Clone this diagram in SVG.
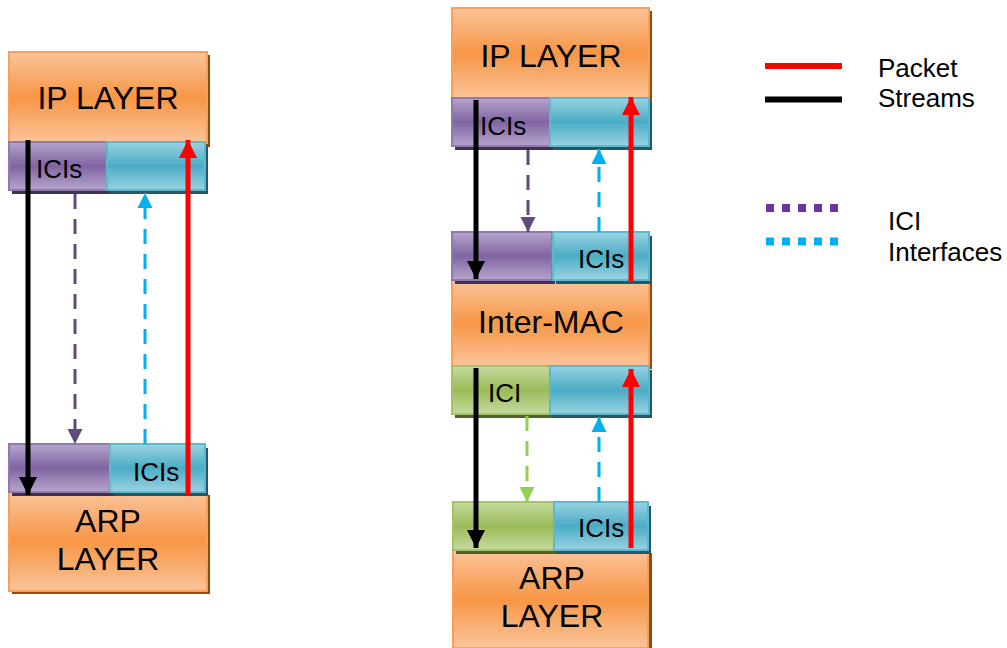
<svg xmlns="http://www.w3.org/2000/svg" width="1007" height="648" viewBox="0 0 1007 648">
<defs>
<linearGradient id="gO" x1="0" y1="0" x2="0" y2="1"><stop offset="0" stop-color="#FAC49A"/><stop offset="0.5" stop-color="#F79646"/><stop offset="1" stop-color="#FAC49A"/></linearGradient>
<linearGradient id="gP" x1="0" y1="0" x2="0" y2="1"><stop offset="0" stop-color="#B6A5CB"/><stop offset="0.5" stop-color="#8064A2"/><stop offset="1" stop-color="#B6A5CB"/></linearGradient>
<linearGradient id="gC" x1="0" y1="0" x2="0" y2="1"><stop offset="0" stop-color="#9AD3E1"/><stop offset="0.5" stop-color="#4BACC6"/><stop offset="1" stop-color="#9AD3E1"/></linearGradient>
<linearGradient id="gG" x1="0" y1="0" x2="0" y2="1"><stop offset="0" stop-color="#C6DA9F"/><stop offset="0.5" stop-color="#9BBB59"/><stop offset="1" stop-color="#C6DA9F"/></linearGradient>
<marker id="aK" markerUnits="userSpaceOnUse" markerWidth="20" markerHeight="20" viewBox="0 0 20 20" refX="18" refY="10" orient="auto"><path d="M0,1 L18,10 L0,19 Z" fill="#000"/></marker>
<marker id="aR" markerUnits="userSpaceOnUse" markerWidth="20" markerHeight="20" viewBox="0 0 20 20" refX="18" refY="10" orient="auto"><path d="M0,1 L18,10 L0,19 Z" fill="#FF0000"/></marker>
<marker id="aP" markerUnits="userSpaceOnUse" markerWidth="16" markerHeight="16" viewBox="0 0 16 16" refX="15" refY="8" orient="auto"><path d="M0,0.5 L15,8 L0,15.5 Z" fill="#604A7B"/></marker>
<marker id="aC" markerUnits="userSpaceOnUse" markerWidth="16" markerHeight="16" viewBox="0 0 16 16" refX="15" refY="8" orient="auto"><path d="M0,0.5 L15,8 L0,15.5 Z" fill="#00B0F0"/></marker>
<marker id="aG" markerUnits="userSpaceOnUse" markerWidth="16" markerHeight="16" viewBox="0 0 16 16" refX="15" refY="8" orient="auto"><path d="M0,0.5 L15,8 L0,15.5 Z" fill="#92D050"/></marker>
</defs>
<style>
text{font-family:"Liberation Sans",Arial,sans-serif;fill:#000}
.big{font-size:32px;text-anchor:middle}
.sm{font-size:26px}
.leg{font-size:26px}
.box{fill:url(#gO);stroke:#F5A060;stroke-width:2}
.sbox{fill:#984807}
.p{fill:url(#gP);stroke:#9079B0;stroke-width:2}
.sp{fill:#3F3151}
.c{fill:url(#gC);stroke:#5BB8D0;stroke-width:2}
.sc{fill:#215968}
.g{fill:url(#gG);stroke:#A5C46A;stroke-width:2}
.sg{fill:#4F6228}
.blk{stroke:#000;stroke-width:5;fill:none}
.red{stroke:#FF0000;stroke-width:5;fill:none}
.dp{stroke:#604A7B;stroke-width:3;stroke-dasharray:15 10;fill:none}
.dc{stroke:#00B0F0;stroke-width:3;stroke-dasharray:15 10;fill:none}
.dg{stroke:#92D050;stroke-width:3;stroke-dasharray:15 10;fill:none}
</style>

<!-- Left stack -->
<g id="left-ip">
<rect class="sbox" x="12" y="55" width="198" height="92"/>
<rect class="box" x="9" y="52" width="198" height="91"/>
<text class="big" x="108" y="109">IP LAYER</text>
</g>
<g id="left-top-bar">
<rect class="sp" x="12" y="146" width="98" height="48"/>
<rect class="sc" x="110" y="146" width="98" height="48"/>
<rect class="p" x="9" y="142" width="98" height="48"/>
<rect class="c" x="107" y="142" width="98" height="48"/>
<text class="sm" x="36" y="178">ICIs</text>
</g>
<g id="left-arp">
<rect class="sbox" x="12" y="495" width="198" height="99"/>
<rect class="box" x="9" y="492" width="198" height="99"/>
<text class="big" x="108" y="532">ARP</text>
<text class="big" x="108" y="570">LAYER</text>
</g>
<g id="left-bottom-bar">
<rect class="sp" x="12" y="448" width="101" height="48"/>
<rect class="sc" x="113" y="448" width="95" height="48"/>
<rect class="p" x="9" y="444" width="101" height="48"/>
<rect class="c" x="110" y="444" width="95" height="48"/>
<text class="sm" x="133" y="481">ICIs</text>
</g>

<!-- Right stack -->
<g id="right-ip">
<rect class="sbox" x="455" y="11" width="197" height="91"/>
<rect class="box" x="452" y="8" width="197" height="91"/>
<text class="big" x="551" y="67">IP LAYER</text>
</g>
<g id="right-top-bar">
<rect class="sp" x="455" y="102" width="98" height="48"/>
<rect class="sc" x="553" y="102" width="99" height="48"/>
<rect class="p" x="452" y="98" width="98" height="48"/>
<rect class="c" x="550" y="98" width="99" height="48"/>
<text class="sm" x="480" y="135">ICIs</text>
</g>
<g id="inter-mac">
<rect class="sbox" x="455" y="284" width="197" height="85"/>
<rect class="box" x="452" y="281" width="197" height="85"/>
<text class="big" x="551" y="333">Inter-MAC</text>
</g>
<g id="right-mid-bar1">
<rect class="sp" x="455" y="236" width="100" height="48"/>
<rect class="sc" x="556" y="236" width="96" height="48"/>
<rect class="p" x="452" y="232" width="100" height="48"/>
<rect class="c" x="553" y="232" width="96" height="48"/>
<text class="sm" x="578" y="268">ICIs</text>
</g>
<g id="right-mid-bar2">
<rect class="sg" x="455" y="370" width="98" height="48"/>
<rect class="sc" x="553" y="370" width="99" height="48"/>
<rect class="g" x="452" y="366" width="98" height="48"/>
<rect class="c" x="550" y="366" width="99" height="48"/>
<text class="sm" x="488" y="402">ICI</text>
</g>
<g id="right-arp">
<rect class="sbox" x="456" y="553" width="196" height="98"/>
<rect class="box" x="453" y="550" width="195" height="98"/>
<text class="big" x="552" y="589">ARP</text>
<text class="big" x="552" y="627">LAYER</text>
</g>
<g id="right-bottom-bar">
<rect class="sg" x="456" y="506" width="101" height="48"/>
<rect class="sc" x="557" y="506" width="94" height="48"/>
<rect class="g" x="453" y="502" width="101" height="48"/>
<rect class="c" x="554" y="502" width="94" height="48"/>
<text class="sm" x="578" y="537">ICIs</text>
</g>

<!-- Connectors -->
<g id="connectors">
<path class="blk" d="M28,140 L28,495" marker-end="url(#aK)"/>
<path class="red" d="M188,495 L188,140" marker-end="url(#aR)"/>
<path class="dp" d="M75,194 L75,444" marker-end="url(#aP)"/>
<path class="dc" d="M145,444 L145,193" marker-end="url(#aC)"/>

<path class="blk" d="M476,100 L476,279" marker-end="url(#aK)"/>
<path class="red" d="M631,282 L631,97" marker-end="url(#aR)"/>
<path class="dp" d="M528,150 L528,232" marker-end="url(#aP)"/>
<path class="dc" d="M599,232 L599,149" marker-end="url(#aC)"/>

<path class="blk" d="M476,368 L476,548" marker-end="url(#aK)"/>
<path class="red" d="M631,548 L631,369" marker-end="url(#aR)"/>
<path class="dg" d="M527,416 L527,502" marker-end="url(#aG)"/>
<path class="dc" d="M599,502 L599,417" marker-end="url(#aC)"/>
</g>

<!-- Legend -->
<g id="legend">
<line x1="765" y1="66" x2="842" y2="66" stroke="#FF0000" stroke-width="6"/>
<line x1="765" y1="99.5" x2="842" y2="99.5" stroke="#000" stroke-width="6"/>
<text class="leg" x="878" y="77">Packet</text>
<text class="leg" x="878" y="107">Streams</text>
<line x1="766" y1="208" x2="838" y2="208" stroke="#7030A0" stroke-width="8" stroke-dasharray="8 8"/>
<line x1="766" y1="241.5" x2="838" y2="241.5" stroke="#00B0F0" stroke-width="8" stroke-dasharray="8 8"/>
<text class="leg" x="888" y="230">ICI</text>
<text class="leg" x="888" y="261">Interfaces</text>
</g>
</svg>
